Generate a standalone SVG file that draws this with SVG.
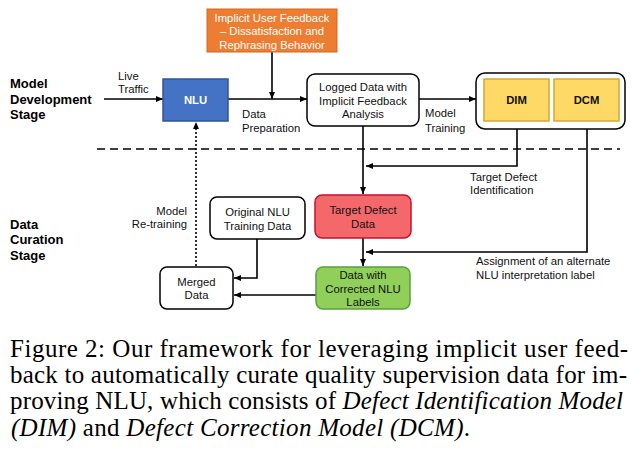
<svg xmlns="http://www.w3.org/2000/svg" width="639" height="449" viewBox="0 0 639 449">
<style>
.t{font-family:"Liberation Sans",Arial,sans-serif;font-size:11.3px;fill:#111;}
.c{text-anchor:middle;}
.w{fill:#fff;}
.b{font-weight:bold;}
.stage{font-family:"Liberation Sans",Arial,sans-serif;font-size:13px;font-weight:bold;fill:#000;}
.box{fill:#fff;stroke:#000;stroke-width:1.5;}
.ln{fill:none;stroke:#000;stroke-width:1.6;}
.cap{font-family:"Liberation Serif","Times New Roman",serif;font-size:25px;fill:#000;}
</style>
<defs>
<marker id="ah" markerWidth="7" markerHeight="6" refX="7" refY="3" orient="auto" markerUnits="userSpaceOnUse">
<path d="M0,0 L7,3 L0,6 z" fill="#000"/>
</marker>
</defs>
<rect width="639" height="449" fill="#fff"/>

<g id="stage-labels">
<text class="stage" x="10" y="88">Model</text>
<text class="stage" x="10" y="104">Development</text>
<text class="stage" x="10" y="119">Stage</text>
<text class="stage" x="10" y="229">Data</text>
<text class="stage" x="10" y="244">Curation</text>
<text class="stage" x="10" y="260">Stage</text>
</g>

<g id="connectors">
<line class="ln" x1="104" y1="99" x2="163" y2="99" marker-end="url(#ah)"/>
<line class="ln" x1="228" y1="99" x2="307" y2="99" marker-end="url(#ah)"/>
<line class="ln" x1="272" y1="52" x2="272" y2="99" marker-end="url(#ah)"/>
<line class="ln" x1="419" y1="99" x2="476" y2="99" marker-end="url(#ah)"/>
<line class="ln" x1="363" y1="126" x2="363" y2="194" marker-end="url(#ah)"/>
<polyline class="ln" points="517,121 517,166 366,166" marker-end="url(#ah)"/>
<polyline class="ln" points="587,121 587,252 366,252" marker-end="url(#ah)"/>
<line class="ln" x1="363" y1="238" x2="363" y2="266" marker-end="url(#ah)"/>
<line class="ln" x1="316" y1="295" x2="234" y2="295" marker-end="url(#ah)"/>
<polyline class="ln" points="257,239 257,278 234,278" marker-end="url(#ah)"/>
<line class="ln" x1="196" y1="266" x2="196" y2="122" stroke-dasharray="2,2" marker-end="url(#ah)"/>
<line class="ln" x1="97" y1="149" x2="620" y2="149" stroke-width="2" stroke-dasharray="8,5"/>
<text class="t" x="118" y="80">Live</text>
<text class="t" x="118" y="93">Traffic</text>
<text class="t" x="242" y="118">Data</text>
<text class="t" x="242" y="132">Preparation</text>
<text class="t" x="425" y="117">Model</text>
<text class="t" x="425" y="132">Training</text>
<text class="t" x="470" y="181">Target Defect</text>
<text class="t" x="470" y="194">Identification</text>
<text class="t" x="476" y="265">Assignment of an alternate</text>
<text class="t" x="476" y="279">NLU interpretation label</text>
<text class="t" x="187" y="215" text-anchor="end">Model</text>
<text class="t" x="187" y="228" text-anchor="end">Re-training</text>
</g>

<g id="feedback">
<rect x="207" y="9" width="130" height="43" fill="#ED7D31" stroke="#d06a22" stroke-width="1"/>
<text class="t c w" x="272" y="22">Implicit User Feedback</text>
<text class="t c w" x="272" y="35">– Dissatisfaction and</text>
<text class="t c w" x="272" y="49">Rephrasing Behavior</text>
</g>

<g id="nlu">
<rect x="163" y="79" width="65" height="42" fill="#4472C4" stroke="#2F5597" stroke-width="1.5"/>
<text class="t c w b" x="195.5" y="104" font-size="12">NLU</text>
</g>

<g id="logged">
<rect class="box" x="307" y="74" width="112" height="52" rx="8"/>
<text class="t c" x="363" y="91">Logged Data with</text>
<text class="t c" x="363" y="105">Implicit Feedback</text>
<text class="t c" x="363" y="118">Analysis</text>
</g>

<g id="models">
<rect class="box" x="476" y="73" width="149" height="56" rx="9"/>
<g id="dim">
<rect x="484" y="79" width="65" height="42" fill="#FFD966" stroke="#D4A73A" stroke-width="1.5"/>
<text class="t c b" x="516.5" y="104" font-size="12">DIM</text>
</g>
<g id="dcm">
<rect x="554" y="79" width="65" height="42" fill="#FFD966" stroke="#D4A73A" stroke-width="1.5"/>
<text class="t c b" x="586.5" y="104" font-size="12">DCM</text>
</g>
</g>

<g id="target-defect">
<rect x="315" y="195" width="96" height="43" rx="7" fill="#F4676B" stroke="#C8102E" stroke-width="1.5"/>
<text class="t c" x="363" y="214">Target Defect</text>
<text class="t c" x="363" y="228">Data</text>
</g>

<g id="corrected">
<rect x="316" y="267" width="94" height="42" rx="7" fill="#8FCF5A" stroke="#5E9E3A" stroke-width="1.5"/>
<text class="t c" x="363" y="279">Data with</text>
<text class="t c" x="363" y="293">Corrected NLU</text>
<text class="t c" x="363" y="306">Labels</text>
</g>

<g id="original">
<rect class="box" x="210" y="197" width="95" height="42" rx="7"/>
<text class="t c" x="257.5" y="216">Original NLU</text>
<text class="t c" x="257.5" y="230">Training Data</text>
</g>

<g id="merged">
<rect class="box" x="160" y="267" width="73" height="42" rx="7"/>
<text class="t c" x="196.5" y="286">Merged</text>
<text class="t c" x="196.5" y="299">Data</text>
</g>

<g id="caption">
<text class="cap" x="10" y="357" textLength="618" lengthAdjust="spacing">Figure 2: Our framework for leveraging implicit user feed-</text>
<text class="cap" x="10" y="383" textLength="617" lengthAdjust="spacing">back to automatically curate quality supervision data for im-</text>
<text class="cap" x="10" y="409" textLength="613" lengthAdjust="spacing">proving NLU, which consists of <tspan font-style="italic">Defect Identification Model</tspan></text>
<text class="cap" x="11" y="436" textLength="459" lengthAdjust="spacing"><tspan font-style="italic">(DIM)</tspan> and <tspan font-style="italic">Defect Correction Model (DCM)</tspan>.</text>
</g>
</svg>
